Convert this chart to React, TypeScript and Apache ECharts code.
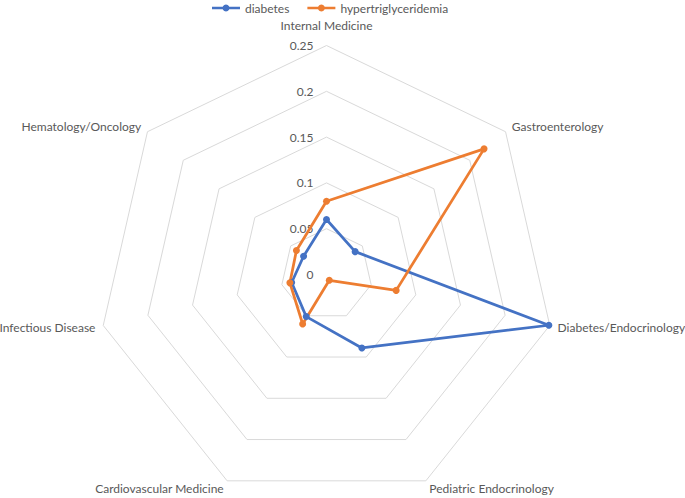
import React, { useEffect, useRef } from "react";
import * as echarts from "echarts";

// Categories in the reference's clockwise order, starting at the top
const categories = [
  "Internal Medicine",
  "Gastroenterology",
  "Diabetes/Endocrinology",
  "Pediatric Endocrinology",
  "Cardiovascular Medicine",
  "Infectious Disease",
  "Hematology/Oncology",
];
const diabetes = [0.06, 0.04, 0.249, 0.089, 0.051, 0.039, 0.032];
const hypertriglyceridemia = [0.08, 0.22, 0.078, 0.007, 0.06, 0.041, 0.042];
const radialTicks = [0, 0.05, 0.1, 0.15, 0.2, 0.25];
const seriesNames = ["diabetes", "hypertriglyceridemia"];
const seriesColors = ["#4472C4", "#ED7D31"];

const FONT = "Lato, 'Open Sans', sans-serif";
const TEXT = "#595959";
const GRIDC = "#D9D9D9";

export default function App() {
  const ref = useRef<HTMLDivElement>(null);
  useEffect(() => {
    document.body.style.margin = "0";
    if (!ref.current) return;
    const chart = echarts.init(ref.current, undefined, { renderer: "svg" });
    // ECharts places radar indicators counter-clockwise: reorder
    const n = categories.length;
    const order = [0, ...categories.map((_, i) => n - 1 - i).slice(0, n - 1)];
    const pick = (arr: any[]) => order.map((i) => arr[i]);
    const cx = 326.5, cy = 274.5, R = 229;
    const tMin = radialTicks[0];
    const tMax = radialTicks[radialTicks.length - 1];
    const tInt = radialTicks[1] - radialTicks[0];
    const icon = "path://M0,3.2 L28,3.2 L28,5.8 L0,5.8 Z M14,1 A3.5,3.5 0 1 1 13.99,1 Z";
    chart.setOption({
      animation: false,
      backgroundColor: "#fff",
      textStyle: { fontFamily: FONT },
      legend: {
        top: 0,
        left: 207,
        padding: [2, 5, 5, 5],
        itemWidth: 28,
        itemHeight: 9,
        itemGap: 18,
        textStyle: { color: TEXT, fontSize: 12, fontFamily: FONT },
        data: seriesNames.map((nm) => ({ name: nm, icon })),
      },
      radar: {
        center: [cx, cy],
        radius: R,
        startAngle: 90,
        shape: "polygon",
        splitNumber: radialTicks.length - 1,
        nameGap: 8,
        axisName: {
          color: TEXT,
          fontSize: 12,
          fontFamily: FONT,
          formatter: (name: string) => (name === categories[0] ? `{top|${name}}` : name),
          rich: { top: { color: TEXT, fontSize: 12, fontFamily: FONT, padding: [0, 0, 6, 0] } },
        },
        axisLine: { show: false },
        axisTick: { show: false },
        axisLabel: { show: false },
        splitArea: { show: false },
        splitLine: { lineStyle: { color: GRIDC, width: 1 } },
        indicator: pick(categories).map((name: string) => ({ name, min: tMin, max: tMax })),
      },
      grid: { left: cx, top: cy - R, width: 1, height: R },
      xAxis: { type: "value", show: false },
      yAxis: {
        type: "value",
        min: tMin,
        max: tMax,
        interval: tInt,
        axisLine: { show: false },
        axisTick: { show: false },
        splitLine: { show: false },
        axisLabel: { color: TEXT, fontSize: 12, fontFamily: FONT, margin: 13 },
      },
      series: [
        {
          type: "radar",
          symbol: "circle",
          symbolSize: 7,
          data: [
            {
              name: seriesNames[0],
              value: pick(diabetes),
              lineStyle: { color: seriesColors[0], width: 2.75 },
              itemStyle: { color: seriesColors[0] },
            },
            {
              name: seriesNames[1],
              value: pick(hypertriglyceridemia),
              lineStyle: { color: seriesColors[1], width: 2.75 },
              itemStyle: { color: seriesColors[1] },
            },
          ],
        },
      ],
    });
    return () => chart.dispose();
  }, []);
  return <div ref={ref} style={{ width: 685, height: 498 }} />;
}
